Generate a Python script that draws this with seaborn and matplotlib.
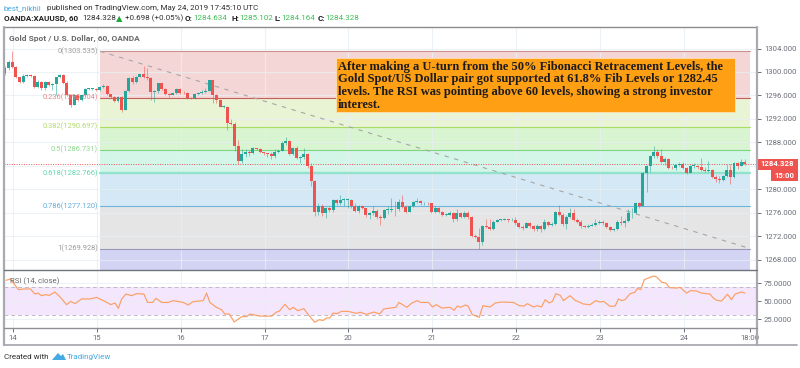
import numpy as np
import pandas as pd
import seaborn as sns
import matplotlib
matplotlib.use('Agg')
import matplotlib.pyplot as plt
from matplotlib.patches import Polygon, Rectangle

W, H = 800, 368

# hourly candles, XAUUSD
first_open = 1299.8
closes = [1300.6,1301.75,1300.9,1299.1,1298.35,1299.3,1299.5,1299.3,1297.5,1298.35,
          1297.2,1298.35,1297.8,1298.0,1299.1,1299.5,1298.2,1296.1,1294.35,1296.0,
          1295.3,1296.0,1297.1,1297.1,1297.1,1297.0,1297.4,1297.6,1296.2,1295.8,
          1295.05,1295.7,1293.6,1296.8,1299.0,1298.25,1299.2,1299.6,1299.2,1299.0,
          1296.65,1296.7,1298.1,1297.05,1296.2,1296.1,1296.35,1297.05,1296.5,1296.35,
          1295.5,1295.6,1296.2,1296.35,1296.65,1296.8,1298.6,1296.1,1295.3,1294.1,
          1294.1,1291.35,1291.2,1287.4,1284.9,1286.0,1286.35,1286.15,1287.0,1286.9,
          1286.35,1286.15,1286.0,1285.7,1286.4,1286.6,1287.85,1288.3,1286.0,1287.0,
          1285.3,1285.45,1285.95,1284.05,1281.5,1276.2,1277.15,1275.9,1276.8,1276.5,
          1278.2,1277.6,1278.2,1278.2,1278.2,1277.15,1276.35,1277.15,1276.8,1275.6,
          1275.9,1276.35,1275.25,1275.2,1276.5,1276.5,1276.6,1276.6,1277.9,1277.05,
          1276.2,1277.15,1277.8,1278.0,1277.6,1277.65,1277.6,1276.2,1276.8,1276.2,
          1275.65,1275.7,1275.9,1274.95,1275.9,1275.35,1275.9,1275.25,1272.1,1271.95,
          1271.0,1273.8,1273.65,1273.25,1274.5,1274.8,1274.8,1274.9,1274.7,1274.85,
          1274.2,1273.65,1273.5,1274.2,1273.75,1273.2,1273.75,1273.25,1274.5,1273.95,
          1274.1,1276.2,1275.65,1274.1,1275.35,1275.9,1274.8,1274.5,1273.75,1273.65,
          1273.75,1273.95,1274.35,1274.35,1274.3,1273.65,1273.1,1273.2,1274.5,1274.2,
          1274.6,1275.9,1276.0,1277.6,1277.15,1282.75,1283.9,1285.7,1286.4,1285.75,
          1284.7,1285.2,1283.7,1283.6,1284.15,1284.4,1283.6,1282.85,1284.0,1284.0,
          1283.75,1283.3,1283.2,1283.3,1282.15,1281.7,1281.6,1282.3,1283.3,1282.05,
          1284.45,1284.05,1284.7,1284.33]
highs = [1301.0,1302.0,1303.5,1301.1,1299.2,1299.6,1299.7,1299.6,1299.5,1298.6,
         1298.5,1298.5,1298.5,1298.2,1299.2,1299.7,1299.6,1298.4,1296.3,1296.2,
         1296.2,1296.2,1297.3,1297.3,1297.3,1297.3,1297.6,1297.9,1297.7,1296.3,
         1295.9,1295.9,1295.9,1297.0,1299.2,1299.3,1299.4,1299.7,1301.1,1300.6,
         1299.1,1297.0,1298.2,1298.2,1297.2,1296.4,1296.5,1297.3,1297.3,1296.7,
         1296.6,1295.8,1296.4,1296.6,1297.0,1297.2,1298.7,1298.7,1296.3,1295.4,
         1294.3,1294.2,1292.0,1291.5,1288.4,1286.9,1286.8,1286.7,1287.2,1287.1,
         1287.0,1286.4,1286.2,1286.3,1286.9,1286.8,1288.2,1289.0,1288.4,1287.3,
         1287.4,1285.7,1287.0,1286.2,1284.5,1281.6,1277.6,1277.5,1277.0,1277.0,
         1278.4,1278.3,1279.1,1278.5,1278.5,1278.4,1277.6,1277.4,1277.3,1276.9,
         1276.2,1277.2,1276.7,1275.6,1276.7,1277.1,1278.5,1278.0,1278.3,1279.0,
         1277.3,1277.4,1278.0,1278.5,1278.2,1277.9,1277.9,1277.7,1277.1,1277.0,
         1276.3,1276.0,1276.3,1276.1,1276.7,1276.2,1276.4,1276.3,1275.4,1272.4,
         1273.4,1274.0,1275.0,1274.9,1274.7,1275.0,1275.0,1275.1,1275.0,1275.1,
         1275.3,1274.5,1273.9,1274.5,1274.4,1274.0,1274.1,1273.9,1275.0,1274.6,
         1274.4,1276.4,1277.3,1275.9,1275.6,1276.9,1276.7,1275.1,1274.8,1274.0,
         1274.1,1274.2,1274.9,1274.8,1274.7,1274.5,1273.8,1273.5,1274.7,1275.4,
         1274.9,1276.7,1276.9,1277.9,1277.9,1283.0,1284.2,1285.9,1287.4,1286.9,
         1286.9,1285.6,1285.3,1284.0,1284.4,1284.6,1284.6,1283.8,1284.2,1284.5,
         1284.2,1285.3,1283.8,1284.8,1283.4,1282.4,1282.3,1282.5,1284.3,1284.3,
         1284.6,1284.7,1285.1,1285.1]
lows = [1299.5,1300.4,1300.6,1298.9,1298.1,1298.2,1299.2,1299.1,1297.2,1297.3,
        1297.0,1297.0,1297.6,1297.0,1296.0,1298.9,1298.0,1295.9,1294.0,1294.3,
        1295.1,1295.1,1295.9,1296.9,1296.9,1296.8,1296.8,1297.2,1296.0,1295.5,
        1294.9,1294.9,1293.2,1293.5,1296.6,1298.0,1298.1,1299.1,1298.9,1298.7,
        1295.3,1294.9,1296.5,1296.9,1296.0,1295.8,1296.0,1296.2,1296.3,1296.2,
        1295.4,1295.4,1295.4,1296.1,1296.3,1296.5,1296.7,1294.8,1294.7,1294.0,
        1293.9,1290.2,1290.9,1286.5,1284.4,1284.5,1285.5,1285.7,1286.0,1286.7,
        1286.2,1285.9,1285.5,1285.2,1285.3,1286.2,1286.5,1287.5,1285.8,1285.9,
        1285.1,1284.5,1285.2,1283.6,1280.5,1275.5,1275.6,1275.5,1275.1,1276.2,
        1276.2,1277.4,1277.4,1277.2,1276.9,1276.9,1276.1,1276.0,1276.6,1275.3,
        1275.0,1275.7,1274.9,1274.0,1275.0,1275.8,1276.1,1275.5,1276.3,1276.9,
        1276.0,1276.1,1277.0,1277.7,1277.4,1277.4,1277.3,1276.0,1276.0,1276.0,
        1275.5,1275.4,1275.6,1274.5,1274.6,1275.1,1275.2,1275.0,1271.9,1271.7,
        1269.8,1270.6,1273.4,1273.0,1273.0,1274.4,1274.6,1274.7,1274.5,1274.6,
        1274.0,1273.4,1273.1,1273.4,1273.5,1272.9,1272.9,1272.8,1273.1,1273.8,
        1273.8,1273.9,1275.4,1273.8,1273.2,1275.2,1274.6,1274.2,1273.5,1273.4,
        1273.5,1273.7,1273.8,1274.1,1274.0,1273.4,1272.9,1272.9,1273.1,1274.0,
        1273.6,1274.4,1275.2,1275.8,1276.9,1277.2,1279.5,1282.9,1285.4,1285.3,
        1284.5,1284.2,1283.4,1283.4,1283.3,1283.9,1283.4,1282.7,1282.8,1283.6,
        1283.4,1283.1,1283.0,1282.9,1281.9,1281.3,1281.1,1281.4,1282.1,1281.0,
        1282.0,1283.5,1283.9,1284.1]

# fibonacci retracement levels, top to bottom
fib_ratios = ['0', '0.236', '0.382', '0.5', '0.618', '0.786', '1']
fib_prices = [1303.535, 1295.604, 1290.697, 1286.731, 1282.766, 1277.120, 1269.928]
fib_lines = ['#c99090', '#c4605c', '#a9dc62', '#7fd47f', '#93e2cb', '#6db6da', '#9a9ab8']
fib_text = ['#a0a0a0', '#e58a88', '#b4d96a', '#8fd88f', '#63d6b0', '#62aedb', '#9a9a9a']
fib_fills = ['#f5d6d6', '#e9f4d5', '#d8f4d0', '#d4f6e9', '#d4e8f5', '#e5e5e5', '#d3d3f3']

# RSI(14), sampled at its turning points
rsi_bars = [0.3,1.4,2.3,3.7,5,7,8.2,9.1,10,11,12.2,13.7,15.1,16.9,18,19.2,21,23.3,25.1,27.4,
            29,30.2,31.1,32,33.2,34.7,36.1,38.1,39.1,40.5,41.4,43,44.8,46.2,48.9,50.3,51.5,54.4,55.3,56.2,
            58,59.4,60.3,61.5,62.9,64.9,66.3,67.2,70,73.1,74.5,75.2,76.8,78.1,79.1,80.3,82,83.2,85,86.2,
            87.3,88.2,89.1,90,91.1,92.3,94.1,96.4,97.5,99.2,101.2,102.8,103.9,105.8,107.2,108.1,108.4,110.2,111.6,113,
            114.1,116.2,117.3,118.3,119.8,122.1,123.2,124.1,125.1,126.2,127.1,128.2,130.1,131.1,133.1,134.5,136.3,139.5,141.1,142.4,
            143.3,145,146,147.2,148.2,149.3,150.2,151.1,152.3,153.2,155,156.4,157.8,158.7,160.5,162.1,163.2,164.2,166,167.4,
            168.3,169.2,170.1,171.5,172.8,173.5,174.4,175.4,176.5,177.9,178.8,180.2,181.3,182.3,184.3,185.2,187,188.1,189.8,191.1,
            193.4,194.3,195.2,196.6,198.2,199.3,200.3,202.1,203]
rsi_vals = [78.7,80.5,75,65.7,66.7,66.7,59.7,61,57.4,58.8,57.9,62.5,55.6,44.9,49.5,46.3,52.8,52.8,55,49.5,
            45,47.2,39.8,52.8,59.7,57.4,60.2,59.7,48.1,48,53.7,48,48,50.5,48,44.4,49,50.5,61,48,
            41.2,38,32,32,20.8,28.2,28.2,32,29,29,34.7,35.6,45.4,38,41.2,36.6,39.4,31,20.4,24,
            23,26.4,26.4,33.3,32.4,35.6,35.6,32.9,34.3,31.5,34.7,32,38.9,40.3,41.2,48,47,41.2,47,50.5,
            48,48,41.7,45,40.3,41.2,37,43,41.2,44.4,42.6,31,27.3,43.5,41.7,47.2,48.6,48,43.5,43,
            46.3,41.7,43.5,41.7,51.9,47.2,49.5,60.2,57.9,50.5,57.4,51,48,45.8,44.9,50.5,48.6,49.5,42.6,43,
            52.8,50.5,51.9,60.2,62,67.6,65.7,79.6,82,84.7,83.3,75.9,75,68.5,68,69,61,64.4,63.9,61,
            59.7,54.2,51,50,59.3,51.9,59.7,62.5,61]

day_labels = ['14', '15', '16', '17', '20', '21', '22', '23', '24', '18:00']
day_bars = [2.2, 25.2, 48.3, 71.3, 94.1, 117.1, 140.2, 163.2, 186.2, 204.4]
price_ticks = [1268, 1272, 1276, 1280, 1288, 1292, 1296, 1300, 1304]
rsi_ticks = [25, 50, 75]
last_price = 1284.328

note_lines = ['After making a U-turn from the 50% Fibonacci Retracement Levels, the',
              'Gold Spot/US Dollar pair got supported at 61.8% Fib Levels or 1282.45',
              'levels. The RSI was pointing above 60 levels, showing a strong investor',
              'interest.']

sns.set_theme(style='white')
plt.rcParams['font.family'] = ['Roboto', 'DejaVu Sans']

RED, GREEN = '#ef5350', '#26a69a'
GRID, FRAME, TICK = '#e8eff4', '#a9a9b2', '#6a6f78'
BAR_PX = 3.645
SMALL = 5.4
HEAD = 5.8


def axes_px(fig, left, top, right, bottom):
    return fig.add_axes([left / W, 1 - bottom / H, (right - left) / W, (bottom - top) / H])


def txt(x, y, s, **kw):
    kw.setdefault('va', 'center')
    return fig.text(x / W, 1 - y / H, s, **kw)


fig = plt.figure(figsize=(W / 100, H / 100), dpi=100, facecolor='white')
ax = axes_px(fig, 4, 27, 757, 270)
ax_rsi = axes_px(fig, 4, 270, 757, 328)

xlim = ((4 - 5) / BAR_PX, (757 - 5) / BAR_PX)
fib_start, fib_end = (100 - 5) / BAR_PX, (750 - 5) / BAR_PX

df = pd.DataFrame({'close': closes, 'high': highs, 'low': lows})
df['open'] = df['close'].shift(1).fillna(first_open)
df['bar'] = np.arange(len(df))
df['colour'] = np.where(df['close'] >= df['open'], GREEN, RED)

# fib bands
ax.set_xlim(*xlim)
ax.set_ylim(1304 - (270 - 48.5) / 5.87, 1304 + (48.5 - 27) / 5.87)
band_edges = fib_prices + [ax.get_ylim()[0]]
for i, fill in enumerate(fib_fills):
    ax.fill_between([fib_start, fib_end], band_edges[i], band_edges[i + 1], color=fill, lw=0, zorder=0.5)

# grid on top of the bands
for a, ticks in ((ax, price_ticks + [1284]), (ax_rsi, rsi_ticks)):
    for d in day_bars[:-1]:
        a.axvline(d, color=GRID, lw=0.8, zorder=1, alpha=0.8)
    for t in ticks:
        a.axhline(t, color=GRID, lw=0.8, zorder=1, alpha=0.8)

for p, c, tc, r in zip(fib_prices, fib_lines, fib_text, fib_ratios):
    ax.plot([fib_start, fib_end], [p, p], color=c, lw=1.7 if r == '0.618' else 0.8, zorder=2)
    ax.text(fib_start - 0.5, p, f'{r}({p:.3f})', color=tc, ha='right', va='center', fontsize=SMALL, zorder=5)

ax.plot([fib_start, fib_end], [fib_prices[0], fib_prices[-1]], color='#a6a6a6', lw=0.8, ls=(0, (4, 5)), zorder=2.5)
ax.axhline(last_price, color='#ef5350', lw=0.7, ls=(0, (1, 1.5)), zorder=2.5)

# candles
ax.vlines(df['bar'], df['low'], df['high'], colors=df['colour'], lw=0.7, alpha=0.55, zorder=3)
ax.bar(df['bar'], (df['close'] - df['open']).abs().clip(lower=0.12), bottom=df[['open', 'close']].min(axis=1),
       width=0.82, color=df['colour'], lw=0, zorder=4)

# RSI panel
ax_rsi.set_xlim(*xlim)
ax_rsi.set_ylim(50 - 27 / 0.72, 50 + 31 / 0.72)
ax_rsi.axhspan(30, 70, color='#f4e6fc', lw=0, zorder=0.5)
for lvl in (30, 70):
    ax_rsi.axhline(lvl, color='#c4b8c6', lw=0.7, ls=(0, (4, 3)), zorder=1.5)
sns.lineplot(x=rsi_bars, y=rsi_vals, ax=ax_rsi, color='#fb9f63', lw=0.85, zorder=3, estimator=None, sort=False)

# axes and ticks
for a in (ax, ax_rsi):
    a.set_xlabel('')
    a.set_ylabel('')
    a.yaxis.tick_right()
    for s in a.spines.values():
        s.set_visible(False)
ax.set_xticks([])
ax.set_yticks(price_ticks)
ax.set_yticklabels([f'{t:.3f}' for t in price_ticks])
ax_rsi.set_yticks(rsi_ticks)
ax_rsi.set_yticklabels([f'{t:.4f}' for t in rsi_ticks])
ax_rsi.set_xticks(day_bars)
ax_rsi.set_xticklabels(day_labels)
ax.tick_params(axis='y', right=True, length=3, width=0.7, color=TICK, labelsize=5.6, labelcolor=TICK, pad=2)
ax_rsi.tick_params(axis='y', right=True, length=3, width=0.7, color=TICK, labelsize=5.6, labelcolor=TICK, pad=2)
ax_rsi.tick_params(axis='x', bottom=True, length=3, width=0.7, color=TICK, labelsize=5.6, labelcolor=TICK, pad=2)

# frame
frame = [((4, 27), (757, 27), '#8c8c8c', 1.0), ((4, 27), (4, 345), FRAME, 1.6),
         ((757, 27), (757, 345), FRAME, 1.6), ((4, 270), (757, 270), '#70757c', 1.0),
         ((4, 328), (757, 328), '#8f8f96', 1.0), ((4, 345), (797, 345), FRAME, 1.3)]
for (x0, y0), (x1, y1), c, lw in frame:
    fig.add_artist(plt.Line2D([x0 / W, x1 / W], [1 - y0 / H, 1 - y1 / H], color=c, lw=lw, transform=fig.transFigure))

# last price tags
fig.add_artist(Rectangle((757 / W, 1 - 169.5 / H), 41 / W, 11 / H, color=RED, lw=0, transform=fig.transFigure))
fig.add_artist(Rectangle((771 / W, 1 - 181 / H), 27 / W, 11 / H, color=RED, lw=0, transform=fig.transFigure))
txt(777, 164, '1284.328', color='white', fontsize=5.6, fontweight='bold', ha='center')
txt(784.5, 175.5, '15:00', color='white', fontsize=5.6, fontweight='bold', ha='center')

# orange note
fig.add_artist(Rectangle((336 / W, 1 - 112 / H), 399 / W, 54 / H, facecolor='#ff9f14', edgecolor='#ffe0b0',
                         lw=0.6, transform=fig.transFigure, zorder=6))
for i, line in enumerate(note_lines):
    txt(338, 66.7 + i * 12.75, line, color='#1c1c1c', fontsize=9.0, fontweight='bold',
        family='Liberation Serif', zorder=7)

# header
hdr = dict(fontsize=HEAD, color='#2f2f2f')
txt(4, 8, 'best_nikhil', fontsize=HEAD, color='#4aa8e0')
txt(47, 8, 'published on TradingView.com, May 24, 2019 17:45:10 UTC', **hdr)
txt(4, 18.5, 'OANDA:XAUUSD, 60', fontsize=HEAD, color='#1e1e1e', fontweight='bold')
txt(82, 18.5, '1284.328', **hdr)
txt(116, 18.5, '▲', fontsize=6, color='#1fa83a', family='DejaVu Sans')
txt(125, 18.5, '+0.698 (+0.05%)', **hdr)
ohlc = [(185, 193, 'O:', '1284.634'), (231, 239.5, 'H:', '1285.102'),
        (274.5, 281, 'L:', '1284.164'), (317.5, 325, 'C:', '1284.328')]
for x, xv, k, v in ohlc:
    txt(x, 18.5, k, fontsize=HEAD, color='#1e1e1e', fontweight='bold')
    txt(xv, 18.5, v, fontsize=HEAD, color='#3fbf55')

txt(9, 38, 'Gold Spot / U.S. Dollar, 60, OANDA', fontsize=6.0, color='#6a6a6a', fontweight='bold')
txt(10, 281, 'RSI (14, close)', fontsize=5.6, color='#6a6a6a')

# footer
txt(4, 357, 'Created with', fontsize=HEAD, color='#2f2f2f')
fig.add_artist(Polygon([(52 / W, 1 - 360 / H), (58 / W, 1 - 353 / H), (61 / W, 1 - 356 / H), (63 / W, 1 - 354 / H),
                        (66 / W, 1 - 360 / H)], closed=True, color='#45a9e2', lw=0, transform=fig.transFigure))
txt(67, 357, 'TradingView', fontsize=HEAD, color='#45a9e2')

fig.savefig('out.png', dpi=100)
